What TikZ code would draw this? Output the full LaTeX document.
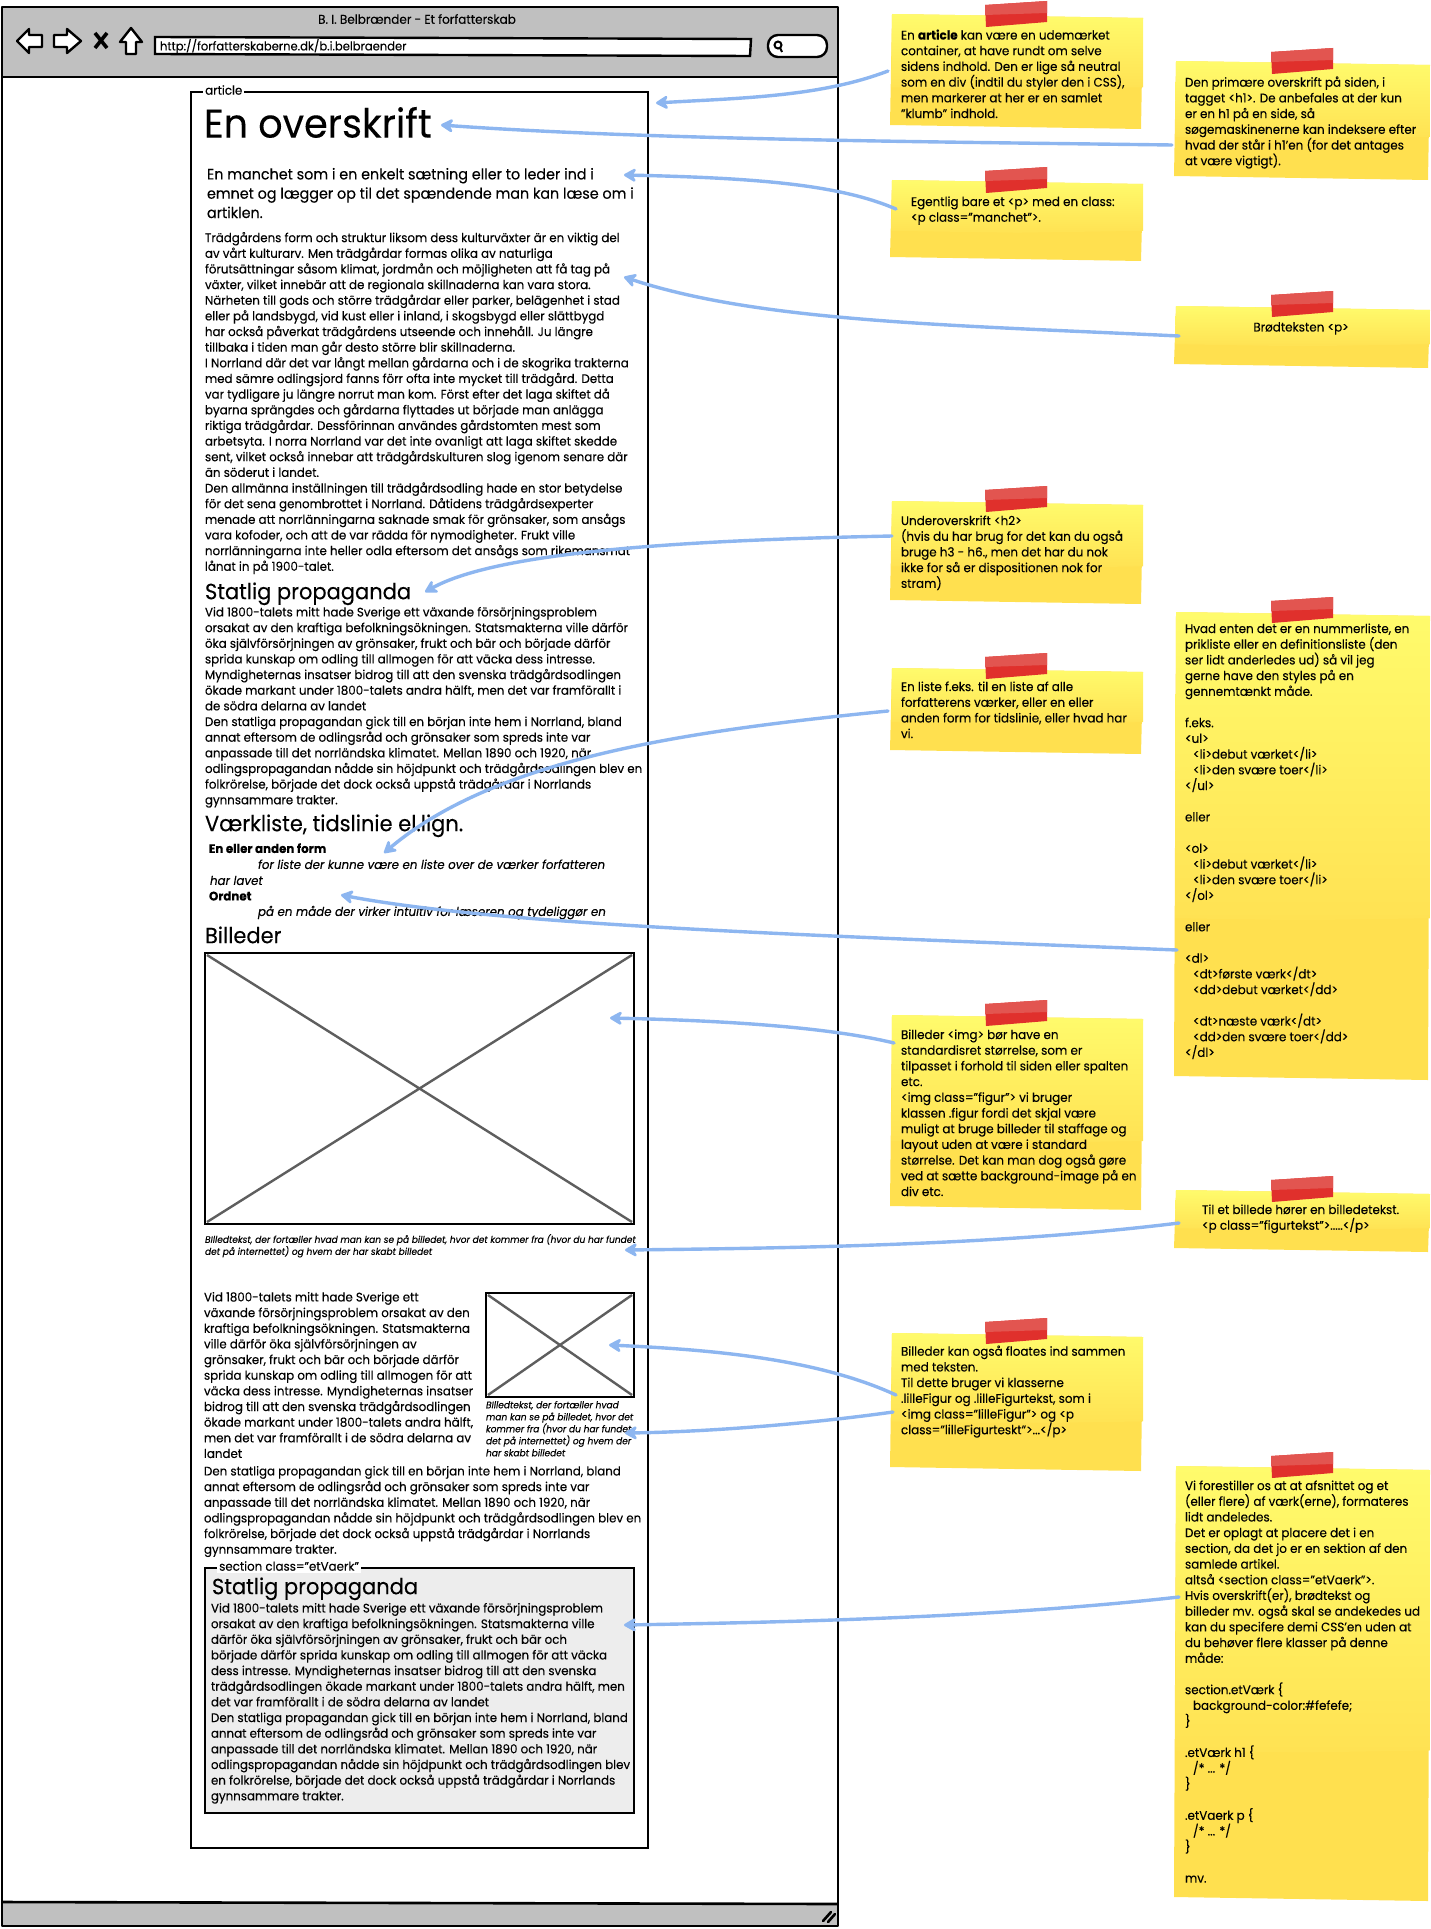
\documentclass[tikz,border=0pt]{standalone}
\usepackage{fontspec}
\usetikzlibrary{arrows.meta}
\setmainfont[FakeStretch=0.955,FakeBold=0.15]{Poppins}
\definecolor{barg}{HTML}{C0C0C0}
\definecolor{arrowb}{HTML}{8DB6F0}
\definecolor{crossg}{HTML}{5E5E5E}
\definecolor{yelL}{HTML}{FFFB6C}
\definecolor{yelM}{HTML}{FFE253}
\definecolor{yelD}{HTML}{FFE04F}
\definecolor{tapeL}{HTML}{E25550}
\definecolor{tapeD}{HTML}{E0302C}
\definecolor{secg}{HTML}{EDEDED}
\newcommand{\stickynote}[4]{%
  \fill[yelD] (#1,#3) -- (#2,#3+4) -- (#2-2,#4+4) -- (#1-2,#4) -- cycle;
  \shade[top color=yelL,bottom color=yelM] (#1,#3) -- (#2,#3+4) -- (#2,{#3+0.66*(#4-#3)}) -- ({#1+0.5*(#2-#1)},{#3+0.66*(#4-#3)+2}) -- (#1-1,{#3+0.66*(#4-#3)}) -- cycle;
}
\newcommand{\tapebit}[2]{%
  \fill[tapeD] (#1,#2+5) -- (#1+62,#2+1) -- (#1+62,#2+22) -- (#1+1,#2+27) -- cycle;
  \fill[tapeL] (#1,#2+5) -- (#1+62,#2+1) -- (#1+62,#2+13) -- (#1,#2+15) -- cycle;
}
\tikzset{
  txt/.style={anchor=north west,inner sep=0pt,outer sep=0pt,align=left,execute at begin node=\strut,font=\fontsize{12.4}{15.65}\selectfont},
  notetxt/.style={txt,font=\fontsize{12.5}{15.7}\selectfont},
  smallcap/.style={txt,font=\fontsize{9.5}{12}\selectfont\itshape},
  htwo/.style={txt,font=\fontsize{22}{26}\selectfont},
  winline/.style={draw=black,line width=2.6pt,line join=round},
  imgbox/.style={draw=black,line width=2.8pt,fill=white},
  crossl/.style={draw=crossg,line width=2.4pt},
  legend/.style={inner sep=2pt,fill=white,font=\fontsize{12.4}{14}\selectfont},
  callout/.style={draw=arrowb,line width=3.4pt,line cap=round,-{Stealth[length=15pt,width=17pt,inset=5pt,round]}},
}
\begin{document}
\begin{tikzpicture}[x=1pt,y=-1pt]
\useasboundingbox (0,0) rectangle (1431,1929);
% window
\fill[white] (2,7) rectangle (838,1926);
\fill[barg] (2,7) rectangle (838,77);
\fill[barg] (2,1903) rectangle (838,1926);
\draw[winline] (2,7) -- (838,7) -- (838,1926) -- (2,1926) -- cycle;
\draw[winline] (2,77) -- (838,77);
\draw[winline] (2,1902) -- (838,1904);
\draw[line width=2.6pt,line cap=round] (823,1921) -- (831,1912);
\draw[line width=2.6pt,line cap=round] (828,1922) -- (835,1914);
\node[inner sep=0pt,font=\fontsize{12.6}{14}\selectfont] (title) at (417,19) {B. I. Belbrænder - Et forfatterskab};
% toolbar icons
\draw[line width=2.4pt,fill=white,line join=round] (17,41) -- (29,29) -- (29,35) -- (42,35) -- (42,47) -- (29,47) -- (29,53) -- cycle;
\draw[line width=2.4pt,fill=white,line join=round] (81,41) -- (67,29) -- (67,35) -- (54,35) -- (54,47) -- (67,47) -- (67,53) -- cycle;
\draw[line width=3.6pt] (95,33) -- (107,48) (107,33) -- (95,48);
\draw[line width=2.4pt,fill=white,line join=round] (131,28) -- (142,42) -- (136,42) -- (136,54) -- (126,54) -- (126,42) -- (120,42) -- cycle;
\draw[line width=2.4pt,fill=white] (155,37) -- (751,39) -- (750,56) -- (155,54) -- cycle;
\node[txt,font=\fontsize{12.1}{14}\selectfont] (url) at (160,39) {http://forfatterskaberne.dk/b.i.belbraender};
\draw[line width=2.4pt,fill=white,rounded corners=10pt] (768,35) rectangle (827,57);
\draw[line width=2pt] (778,45) circle (3.5pt);
\draw[line width=2pt] (780,48) -- (782,52);
% article
\draw[draw=black,line width=2.5pt,fill=white] (191,92) rectangle (648,1848);
\node[legend,anchor=west] (artl) at (203,90) {article};
\node[txt,font=\fontsize{40}{40}\selectfont] (h1) at (204,107) {En overskrift};
\node[txt,font=\fontsize{15}{19.3}\selectfont] (manchet) at (207,168) {En manchet som i en enkelt sætning eller to leder ind i\\
emnet og lægger op til det spændende man kan læse om i\\
artiklen.};
\node[txt] (body1) at (205,232) {Trädgårdens form och struktur liksom dess kulturväxter är en viktig del\\
av vårt kulturarv. Men trädgårdar formas olika av naturliga\\
förutsättningar såsom klimat, jordmån och möjligheten att få tag på\\
växter, vilket innebär att de regionala skillnaderna kan vara stora.\\
Närheten till gods och större trädgårdar eller parker, belägenhet i stad\\
eller på landsbygd, vid kust eller i inland, i skogsbygd eller slättbygd\\
har också påverkat trädgårdens utseende och innehåll. Ju längre\\
tillbaka i tiden man går desto större blir skillnaderna.\\
I Norrland där det var långt mellan gårdarna och i de skogrika trakterna\\
med sämre odlingsjord fanns förr ofta inte mycket till trädgård. Detta\\
var tydligare ju längre norrut man kom. Först efter det laga skiftet då\\
byarna sprängdes och gårdarna flyttades ut började man anlägga\\
riktiga trädgårdar. Dessförinnan användes gårdstomten mest som\\
arbetsyta. I norra Norrland var det inte ovanligt att laga skiftet skedde\\
sent, vilket också innebar att trädgårdskulturen slog igenom senare där\\
än söderut i landet.\\
Den allmänna inställningen till trädgårdsodling hade en stor betydelse\\
för det sena genombrottet i Norrland. Dåtidens trädgårdsexperter\\
menade att norrlänningarna saknade smak för grönsaker, som ansågs\\
vara kofoder, och att de var rädda för nymodigheter. Frukt ville\\
norrlänningarna inte heller odla eftersom det ansågs som rikemansmat\\
lånat in på 1900-talet.};
\node[htwo] (h2a) at (205,581) {Statlig propaganda};
\node[txt] (body2) at (205,607) {Vid 1800-talets mitt hade Sverige ett växande försörjningsproblem\\
orsakat av den kraftiga befolkningsökningen. Statsmakterna ville därför\\
öka självförsörjningen av grönsaker, frukt och bär och började därför\\
sprida kunskap om odling till allmogen för att väcka dess intresse.\\
Myndigheternas insatser bidrog till att den svenska trädgårdsodlingen\\
ökade markant under 1800-talets andra hälft, men det var framförallt i\\
de södra delarna av landet\\
Den statliga propagandan gick till en början inte hem i Norrland, bland\\
annat eftersom de odlingsråd och grönsaker som spreds inte var\\
anpassade till det norrländska klimatet. Mellan 1890 och 1920, när\\
odlingspropagandan nådde sin höjdpunkt och trädgårdsodlingen blev en\\
folkrörelse, började det dock också uppstå trädgårdar i Norrlands\\
gynnsammare trakter.};
\node[htwo] (h2b) at (205,813) {Værkliste, tidslinie el.lign.};
\node[txt,font=\fontsize{12.4}{15.65}\selectfont\bfseries] (dt1) at (209,842) {En eller anden form};
\node[txt,font=\fontsize{12.4}{15.65}\selectfont\itshape] (dd1) at (258,858) {for liste der kunne være en liste over de værker forfatteren};
\node[txt,font=\fontsize{12.4}{15.65}\selectfont\itshape] (dd1b) at (210,874) {har lavet};
\node[txt,font=\fontsize{12.4}{15.65}\selectfont\bfseries] (dt2) at (209,889.5) {Ordnet};
\node[txt,font=\fontsize{12.4}{15.65}\selectfont\itshape] (dd2) at (258,905) {på en måde der virker intuitiv for læseren og tydeliggør en};
\node[htwo] (h2c) at (205,925) {Billeder};
% big image
\draw[imgbox] (205,953) rectangle (634,1224);
\draw[crossl] (207,955) -- (632,1222) (632,955) -- (207,1222);
\node[smallcap] (cap1) at (205,1234) {BIlledtekst, der fortæller hvad man kan se på billedet, hvor det kommer fra (hvor du har fundet\\
det på internettet) og hvem der har skabt billedet};
\node[txt] (body3) at (204,1292) {Vid 1800-talets mitt hade Sverige ett\\
växande försörjningsproblem orsakat av den\\
kraftiga befolkningsökningen. Statsmakterna\\
ville därför öka självförsörjningen av\\
grönsaker, frukt och bär och började därför\\
sprida kunskap om odling till allmogen för att\\
väcka dess intresse. Myndigheternas insatser\\
bidrog till att den svenska trädgårdsodlingen\\
ökade markant under 1800-talets andra hälft,\\
men det var framförallt i de södra delarna av\\
landet};
% small image
\draw[imgbox] (486,1293) rectangle (634,1397);
\draw[crossl] (488,1295) -- (632,1395) (632,1295) -- (488,1395);
\node[smallcap] (cap2) at (486,1401) {BIlledtekst, der fortæller hvad\\
man kan se på billedet, hvor det\\
kommer fra (hvor du har fundet\\
det på internettet) og hvem der\\
har skabt billedet};
\node[txt] (body4) at (204,1466) {Den statliga propagandan gick till en början inte hem i Norrland, bland\\
annat eftersom de odlingsråd och grönsaker som spreds inte var\\
anpassade till det norrländska klimatet. Mellan 1890 och 1920, när\\
odlingspropagandan nådde sin höjdpunkt och trädgårdsodlingen blev en\\
folkrörelse, började det dock också uppstå trädgårdar i Norrlands\\
gynnsammare trakter.};
% section
\draw[draw=black,line width=2.8pt,fill=secg] (205,1568) rectangle (634,1813);
\node[legend,anchor=west] (secl) at (217,1566) {section class="etVaerk"};
\node[htwo] (h2d) at (212,1576) {Statlig propaganda};
\node[txt] (body5) at (211,1603) {Vid 1800-talets mitt hade Sverige ett växande försörjningsproblem\\
orsakat av den kraftiga befolkningsökningen. Statsmakterna ville\\
därför öka självförsörjningen av grönsaker, frukt och bär och\\
började därför sprida kunskap om odling till allmogen för att väcka\\
dess intresse. Myndigheternas insatser bidrog till att den svenska\\
trädgårdsodlingen ökade markant under 1800-talets andra hälft, men\\
det var framförallt i de södra delarna av landet\\
Den statliga propagandan gick till en början inte hem i Norrland, bland\\
annat eftersom de odlingsråd och grönsaker som spreds inte var\\
anpassade till det norrländska klimatet. Mellan 1890 och 1920, när\\
odlingspropagandan nådde sin höjdpunkt och trädgårdsodlingen blev\\
en folkrörelse, började det dock också uppstå trädgårdar i Norrlands\\
gynnsammare trakter.};
% notes
\stickynote{892}{1143}{14}{125}\tapebit{985}{0}
\node[notetxt] (n1) at (901,29.5) {En \textbf{article} kan være en udemærket\\
container, at have rundt om selve\\
sidens indhold. Den er lige så neutral\\
som en div (indtil du styler den i CSS),\\
men markerer at her er en samlet\\
"klumb" indhold.};
\stickynote{1176}{1430}{61}{176}\tapebit{1271}{47}
\node[notetxt] (n2) at (1185,76.5) {Den primære overskrift på siden, i\\
tagget <h1>. De anbefales at der kun\\
er en h1 på en side, så\\
søgemaskinenerne kan indeksere efter\\
hvad der står i h1'en (for det antages\\
at være vigtigt).};
\stickynote{892}{1143}{180}{257}\tapebit{985}{166}
\node[notetxt] (n3) at (911,196.5) {Egentlig bare et <p> med en class:\\
<p class="manchet">.};
\stickynote{1176}{1430}{306}{364}\tapebit{1271}{290}
\node[notetxt,anchor=north] (n4) at (1301,320.5) {Brødteksten <p>};
\stickynote{892}{1143}{501}{600}\tapebit{985}{485}
\node[notetxt] (n5) at (901,515.5) {Underoverskrift <h2>\\
(hvis du har brug for det kan du også\\
bruge h3 - h6., men det har du nok\\
ikke for så er dispositionen nok for\\
stram)};
\stickynote{892}{1143}{668}{750}\tapebit{985}{652}
\node[notetxt] (n6) at (901,681.5) {En liste f.eks. til en liste af alle\\
forfatterens værker, eller en eller\\
anden form for tidslinie, eller hvad har\\
vi.};
\stickynote{1176}{1430}{612}{1076}\tapebit{1271}{596}
\node[notetxt] (n7) at (1185,623.5) {Hvad enten det er en nummerliste, en\\
prikliste eller en definitionsliste (den\\
ser lidt anderledes ud) så vil jeg\\
gerne have den styles på en\\
gennemtænkt måde.\\
\mbox{}\\
f.eks.\\
<ul>\\
\hspace*{8pt}<li>debut værket</li>\\
\hspace*{8pt}<li>den svære toer</li>\\
</ul>\\
\mbox{}\\
eller\\
\mbox{}\\
<ol>\\
\hspace*{8pt}<li>debut værket</li>\\
\hspace*{8pt}<li>den svære toer</li>\\
</ol>\\
\mbox{}\\
eller\\
\mbox{}\\
<dl>\\
\hspace*{8pt}<dt>første værk</dt>\\
\hspace*{8pt}<dd>debut værket</dd>\\
\mbox{}\\
\hspace*{8pt}<dt>næste værk</dt>\\
\hspace*{8pt}<dd>den svære toer</dd>\\
</dl>};
\stickynote{892}{1143}{1015}{1206}\tapebit{985}{999}
\node[notetxt] (n8) at (901,1029.5) {Billeder <img> bør have en\\
standardisret størrelse, som er\\
tilpasset i forhold til siden eller spalten\\
etc.\\
<img class="figur"> vi bruger\\
klassen .figur fordi det skjal være\\
muligt at bruge billeder til staffage og\\
layout uden at være i standard\\
størrelse. Det kan man dog også gøre\\
ved at sætte background-image på en\\
div etc.};
\stickynote{1176}{1430}{1190}{1248}\tapebit{1271}{1175}
\node[notetxt] (n9) at (1202,1204.5) {Til et billede hører en billedetekst.\\
<p class="figurtekst">.....</p>};
\stickynote{892}{1143}{1333}{1467}\tapebit{985}{1317}
\node[notetxt] (n10) at (901,1345.5) {Billeder kan også floates ind sammen\\
med teksten.\\
Til dette bruger vi klasserne\\
.lilleFigur og .lilleFigurtekst, som i\\
<img class="lilleFigur"> og <p\\
class="lilleFigurteskt">...</p>};
\stickynote{1176}{1430}{1466}{1897}\tapebit{1271}{1451}
\node[notetxt] (n11) at (1185,1480.5) {Vi forestiller os at at afsnittet og et\\
(eller flere) af værk(erne), formateres\\
lidt andeledes.\\
Det er oplagt at placere det i en\\
section, da det jo er en sektion af den\\
samlede artikel.\\
altså <section class="etVaerk">.\\
Hvis overskrift(er), brødtekst og\\
billeder mv. også skal se andekedes ud\\
kan du specifere demi CSS'en uden at\\
du behøver flere klasser på denne\\
måde:\\
\mbox{}\\
section.etVærk \{\\
\hspace*{8pt}background-color:\#fefefe;\\
\}\\
\mbox{}\\
.etVærk h1 \{\\
\hspace*{8pt}/* ... */\\
\}\\
\mbox{}\\
.etVaerk p \{\\
\hspace*{8pt}/* ... */\\
\}\\
\mbox{}\\
mv.};
% connector ends
\coordinate (a1s) at (888,71); \coordinate (a1e) at (656,103);
\coordinate (a2s) at (1172,145); \coordinate (a2e) at (441,125);
\coordinate (a3s) at (896,209); \coordinate (a3e) at (624,175);
\coordinate (a4s) at (1179,336); \coordinate (a4e) at (624,277);
\coordinate (a5s) at (892,536); \coordinate (a5e) at (425,592);
\coordinate (a6s) at (888,711); \coordinate (a6e) at (384,853);
\coordinate (a7s) at (1177,950); \coordinate (a7e) at (341,895);
\coordinate (a8s) at (894,1043); \coordinate (a8e) at (610,1018);
\coordinate (a9s) at (1179,1223); \coordinate (a9e) at (625,1250);
\coordinate (a10s) at (896,1395); \coordinate (a10e) at (609,1345);
\coordinate (a11s) at (893,1412); \coordinate (a11e) at (625,1433);
\coordinate (a12s) at (1179,1597); \coordinate (a12e) at (624,1625);
\draw[callout] (a1s) .. controls (820,97) and (740,98) .. (a1e);
\draw[callout] (a2s) .. controls (950,142) and (650,140) .. (a2e);
\draw[callout] (a3s) .. controls (840,185) and (760,178) .. (a3e);
\draw[callout] (a4s) .. controls (950,325) and (760,322) .. (a4e);
\draw[callout] (a5s) .. controls (700,540) and (500,550) .. (a5e);
\draw[callout] (a6s) .. controls (700,730) and (500,755) .. (a6e);
\draw[callout] (a7s) .. controls (800,935) and (500,925) .. (a7e);
\draw[callout] (a8s) .. controls (820,1025) and (700,1020) .. (a8e);
\draw[callout] (a9s) .. controls (1000,1245) and (800,1248) .. (a9e);
\draw[callout] (a10s) .. controls (820,1360) and (720,1350) .. (a10e);
\draw[callout] (a11s) .. controls (800,1425) and (700,1432) .. (a11e);
\draw[callout] (a12s) .. controls (1000,1617) and (800,1622) .. (a12e);
\end{tikzpicture}
\end{document}
